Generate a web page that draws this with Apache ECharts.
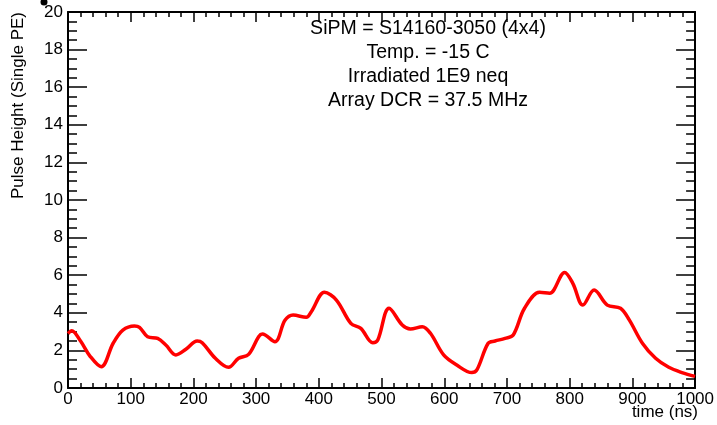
<!DOCTYPE html>
<html>
<head>
<meta charset="utf-8">
<script src="https://cdn.jsdelivr.net/npm/echarts@6/dist/echarts.min.js"></script>
<style>html,body{margin:0;padding:0;background:#fff}#c{width:717px;height:425px}</style>
</head>
<body>
<div id="c"></div>
<script>
const times = [0, 6, 20, 35, 53, 72, 87.5, 106, 114, 127, 143, 156, 172, 188, 206, 214, 235, 256, 272, 288, 304, 310, 330, 346, 359, 380, 388, 409, 428, 451, 467, 486, 494, 512, 533, 546, 565, 578, 599, 620, 644, 652, 670, 681, 697, 710, 728, 752, 768, 792, 805, 821, 839, 860, 881, 895, 916, 937, 958, 979, 1000];
const heights = [2.9, 3.05, 2.5, 1.7, 1.13, 2.38, 3.08, 3.3, 3.23, 2.73, 2.64, 2.29, 1.76, 2.06, 2.5, 2.41, 1.58, 1.1, 1.58, 1.79, 2.73, 2.87, 2.46, 3.6, 3.88, 3.76, 4.06, 5.09, 4.68, 3.44, 3.17, 2.41, 2.55, 4.24, 3.35, 3.14, 3.26, 2.91, 1.76, 1.22, 0.82, 0.96, 2.38, 2.5, 2.64, 2.82, 4.24, 5.09, 5.04, 6.15, 5.57, 4.41, 5.21, 4.41, 4.24, 3.62, 2.38, 1.58, 1.1, 0.82, 0.62];
const infoLines = ['SiPM = S14160-3050 (4x4)', 'Temp. = -15 C', 'Irradiated 1E9 neq', 'Array DCR = 37.5 MHz'];
const xName = 'time (ns)';
const yName = 'Pulse Height (Single PE)';

const font = 'Liberation Sans, Arial, Helvetica, sans-serif';
const chart = echarts.init(document.getElementById('c'), null, {renderer: 'canvas'});
const axCol = '#000';
function xAx(pos, show) {
  return {
    type: 'value', position: pos, min: 0, max: 1000, interval: 100,
    axisLine: {show: true, onZero: false, lineStyle: {color: axCol, width: 2}},
    axisTick: {show: true, inside: true, length: 10, lineStyle: {color: axCol, width: 1.5}},
    minorTick: {show: true, splitNumber: 5, length: 5, lineStyle: {color: axCol, width: 1.5}},
    splitLine: {show: false},
    axisLabel: {show: show, color: '#000', fontFamily: font, fontSize: 17, margin: 3, formatter: v => String(v)}
  };
}
function yAx(pos, show) {
  return {
    type: 'value', position: pos, min: 0, max: 20, interval: 2,
    axisLine: {show: true, onZero: false, lineStyle: {color: axCol, width: 2}},
    axisTick: {show: true, inside: true, length: 19, lineStyle: {color: axCol, width: 1.5}},
    minorTick: {show: true, splitNumber: 4, length: 9, lineStyle: {color: axCol, width: 1.5}},
    splitLine: {show: false},
    axisLabel: {show: show, color: '#000', fontFamily: font, fontSize: 17, margin: 5, formatter: v => String(v)}
  };
}
chart.setOption({
  animation: false,
  backgroundColor: '#fff',
  grid: {left: 68, right: 19, top: 12, bottom: 37, containLabel: false},
  xAxis: [xAx('bottom', true), xAx('top', false)],
  yAxis: [yAx('left', true), yAx('right', false)],
  series: [{
    type: 'line',
    data: times.map((t, i) => [t, heights[i]]),
    smooth: 0.35,
    symbol: 'none',
    lineStyle: {color: '#ff0000', width: 3.5},
    xAxisIndex: 0, yAxisIndex: 0
  }],
  graphic: [
    {type: 'text', x: 428, y: 16, style: {text: infoLines.join('\n'), fill: '#000', font: '19.5px ' + font, align: 'center', verticalAlign: 'top', lineHeight: 24.3}},
    {type: 'text', x: 698, y: 404, style: {text: xName, fill: '#000', font: '17px ' + font, align: 'right', verticalAlign: 'top'}},
    {type: 'text', x: 18, y: 12, rotation: Math.PI / 2, style: {text: yName, fill: '#000', font: '17px ' + font, align: 'right', verticalAlign: 'middle'}},
    {type: 'circle', shape: {cx: 44, cy: 2, r: 3.5}, style: {fill: '#000'}}
  ]
});
</script>
</body>
</html>
